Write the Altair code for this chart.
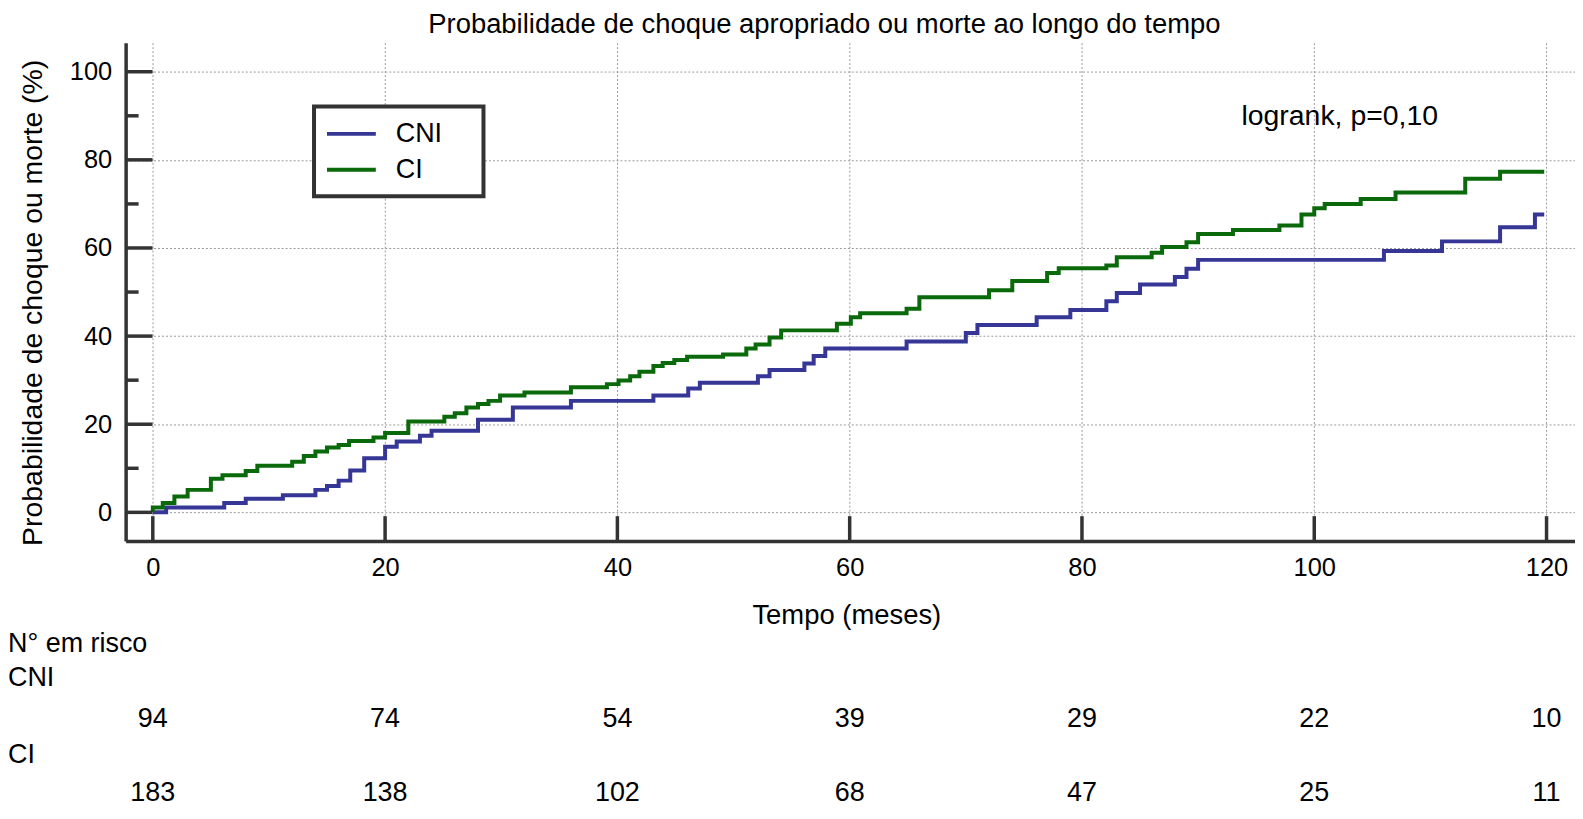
import altair as alt
import pandas as pd

# ---- data ----
cni_t = [0, 1.15, 6.15, 8.0, 11.2, 14.0, 15.0, 16.0, 17.0, 18.2, 20.0, 21.0, 23.0, 24.0,
         28.0, 31.0, 36.0, 43.1, 46.1, 47.1, 52.1, 53.1, 56.1, 56.9, 57.9, 64.9, 70.0,
         71.0, 76.1, 79.0, 82.1, 83.0, 85.0, 88.0, 89.0, 90.0, 106.0, 111.0, 116.0,
         119.0, 119.8]
cni_p = [0, 1.1, 2.1, 3.1, 3.9, 5.1, 6.0, 7.2, 9.5, 12.3, 14.9, 16.1, 17.4, 18.5,
         21.0, 23.8, 25.3, 26.5, 28.1, 29.4, 30.9, 32.3, 33.8, 35.5, 37.2, 38.8, 40.7,
         42.5, 44.3, 45.9, 47.9, 49.8, 51.7, 53.4, 55.3, 57.3, 59.3, 61.5, 64.7,
         67.6, 67.6]

ci_t = [0, 0, 0.86, 1.86, 3.0, 5.0, 6.0, 8.0, 9.0, 12.0, 13.0, 14.0, 15.0, 16.0, 16.9,
        19.0, 20.0, 22.0, 25.1, 26.0, 27.0, 28.0, 28.9, 29.9, 32.0, 36.0, 39.1, 40.1,
        41.1, 41.9, 43.1, 43.9, 44.9, 46.0, 49.1, 51.1, 51.9, 53.1, 54.1, 58.9, 60.1,
        60.9, 64.9, 66.0, 72.0, 74.0, 77.0, 78.0, 82.1, 83.0, 86.0, 86.9, 89.0, 90.0,
        93.0, 97.0, 98.9, 100.0, 100.9, 104.0, 107.0, 113.0, 116.0, 119.8]
ci_p = [0, 1.1, 2.1, 3.6, 5.1, 7.6, 8.4, 9.4, 10.6, 11.5, 12.8, 13.8, 14.7, 15.3, 16.2,
        17.0, 18.0, 20.6, 21.7, 22.5, 23.8, 24.6, 25.3, 26.5, 27.2, 28.4, 29.1, 29.9,
        30.9, 31.9, 33.2, 33.9, 34.6, 35.3, 35.8, 37.2, 38.1, 39.7, 41.3, 42.8, 44.3,
        45.2, 46.2, 48.8, 50.4, 52.5, 54.3, 55.4, 56.0, 57.9, 58.9, 60.2, 61.3, 63.2,
        64.1, 65.1, 67.6, 69.0, 70.0, 71.1, 72.6, 75.7, 77.3, 77.3]

groups = ["CNI", "CI"]
x_ticks = [0, 20, 40, 60, 80, 100, 120]
y_ticks = [0, 20, 40, 60, 80, 100]
y_minor = [10, 30, 50, 70, 90]

risk_times = [0, 20, 40, 60, 80, 100, 120]
risk_cni = [94, 74, 54, 39, 29, 22, 10]
risk_ci = [183, 138, 102, 68, 47, 25, 11]

title_text = "Probabilidade de choque apropriado ou morte ao longo do tempo"
x_title = "Tempo (meses)"
y_title = "Probabilidade de choque ou morte (%)"
logrank_text = "logrank, p=0,10"
risk_header = "N° em risco"

# ---- styling ----
FONT = "Liberation Sans"
BLUE = "#363696"
GREEN = "#0a690a"
AXC = "#333333"
W, H = 1454, 500
XDOM = [-2.34, 122.45]
YDOM = [-6.52, 106.6]

curves = pd.DataFrame({
    "t": cni_t + ci_t,
    "p": cni_p + ci_p,
    "grupo": ["CNI"] * len(cni_t) + ["CI"] * len(ci_t),
    "i": list(range(len(cni_t))) + list(range(len(ci_t))),
})

xs = alt.Scale(domain=XDOM, nice=False, zero=False)
ys = alt.Scale(domain=YDOM, nice=False, zero=False)
x_axis = alt.Axis(values=x_ticks, title=x_title, titleX=723, titleY=75,
                  titleBaseline="middle", titleAlign="center", labelPadding=15)
y_axis = alt.Axis(values=y_ticks, title=y_title, titleX=-93, titleY=260.5, titleAngle=270,
                  titleBaseline="middle", titleAlign="center", labelPadding=14,
                  titleFontSize=28.5)

# trailing no-break spaces (kept by a final zero-width space) widen the legend frame
pad = "\u00a0\u00a0\u00a0\u2009\u200b"

lines = alt.Chart(curves).mark_line(interpolate="step-after", strokeWidth=4).encode(
    x=alt.X("t:Q", scale=xs, axis=x_axis),
    y=alt.Y("p:Q", scale=ys, axis=y_axis),
    color=alt.Color("grupo:N", scale=alt.Scale(domain=groups, range=[BLUE, GREEN]),
                    legend=alt.Legend(
                        title=None, orient="none", legendX=189, legendY=64,
                        strokeColor=AXC, fillColor="white", padding=13,
                        symbolType="M-2,0H2", symbolSize=600, symbolStrokeWidth=4,
                        symbolOffset=10, labelOffset=30, rowPadding=8,
                        labelFont=FONT, labelFontSize=27, labelColor="black",
                        labelExpr="datum.label + '" + pad + "'")),
    order=alt.Order("i:Q"),
)

xt = alt.Chart(pd.DataFrame({"t": x_ticks})).mark_rule(color=AXC, strokeWidth=3.5).encode(
    x=alt.X("t:Q", scale=xs, axis=x_axis), y=alt.value(H), y2=alt.value(H - 25))
yt = alt.Chart(pd.DataFrame({"p": y_ticks})).mark_rule(color=AXC, strokeWidth=3.5).encode(
    y=alt.Y("p:Q", scale=ys, axis=y_axis), x=alt.value(0), x2=alt.value(27))
ym = alt.Chart(pd.DataFrame({"p": y_minor})).mark_rule(color=AXC, strokeWidth=3.5).encode(
    y=alt.Y("p:Q", scale=ys, axis=y_axis), x=alt.value(0), x2=alt.value(13))

def risk_row(vals, ypix):
    df = pd.DataFrame({"t": risk_times, "n": vals})
    return alt.Chart(df).mark_text(font=FONT, fontSize=27, color="black",
                                   baseline="middle", align="center").encode(
        x=alt.X("t:Q", scale=xs, axis=x_axis), y=alt.value(ypix), text="n:Q")

def label(txt, xpix, ypix, size=27, align="left"):
    return alt.Chart(pd.DataFrame({"s": [txt]})).mark_text(
        font=FONT, fontSize=size, color="black", baseline="middle", align=align).encode(
        x=alt.value(xpix), y=alt.value(ypix), text="s:N")

chart = alt.layer(
    lines, xt, yt, ym,
    risk_row(risk_cni, 678.5), risk_row(risk_ci, 752.5),
    label(risk_header, -118, 603.5), label("CNI", -118, 637.5), label("CI", -118, 715),
    label(logrank_text, 1218, 73.5, 28.5, "center"),
    label(title_text, 701, -17.5, 27.5, "center"),
).properties(
    width=W, height=H,
    padding={"left": 118, "top": 33.5, "right": 0, "bottom": 264.5},
    autosize=alt.AutoSizeParams(type="none"),
    background="white",
).configure_view(stroke=None).configure_axis(
    domainColor=AXC, domainWidth=3.5, ticks=False, tickSize=0,
    grid=True, gridColor="#9a9a9a", gridDash=[2, 2], gridWidth=1,
    labelFont=FONT, labelFontSize=25.5, labelColor="black",
    titleFont=FONT, titleFontSize=27.5, titleColor="black", titleFontWeight="normal",
).configure_legend(strokeWidth=4)

chart.save("out.html", embed_options={"renderer": "svg", "actions": False})
